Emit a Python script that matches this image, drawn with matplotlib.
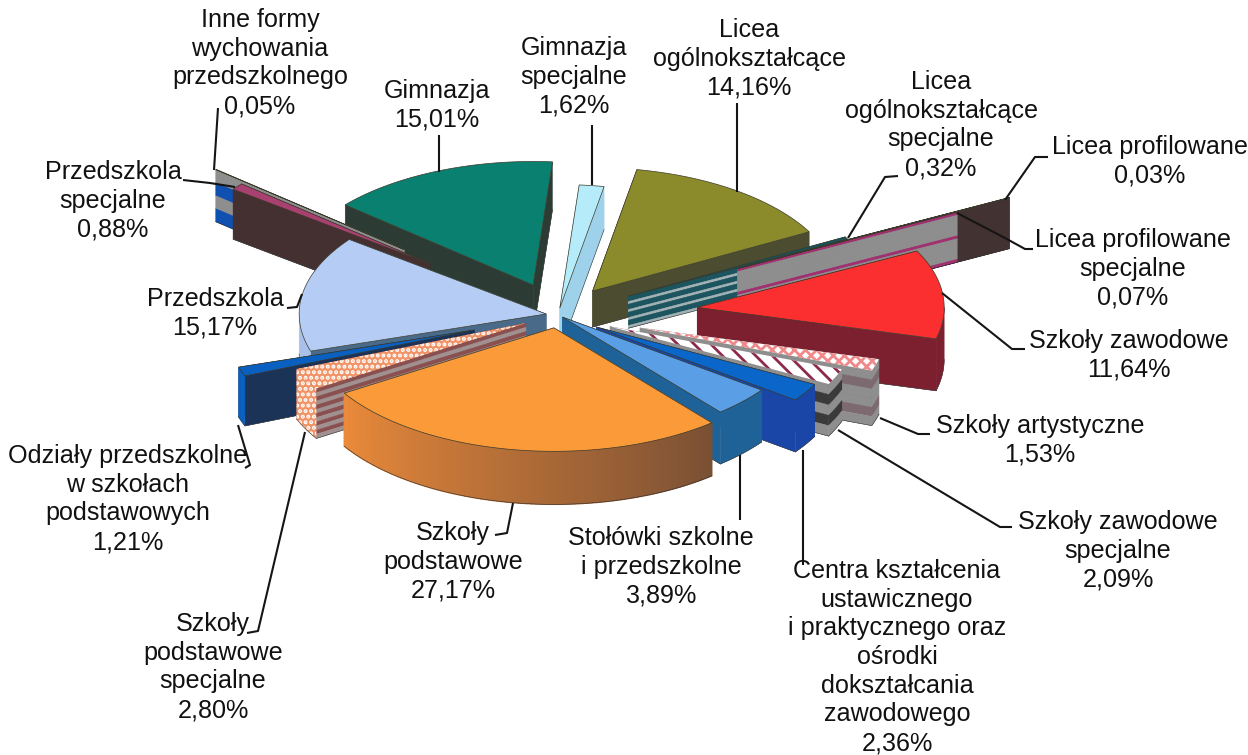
import numpy as np
import matplotlib
matplotlib.use('Agg')
import matplotlib.pyplot as plt
from matplotlib.patches import Polygon

# data, clockwise from the top
names = ['Gimnazja\nspecjalne', 'Licea\nogólnokształcące', 'Licea\nogólnokształcące\nspecjalne',
         'Licea profilowane', 'Licea profilowane\nspecjalne', 'Szkoły zawodowe', 'Szkoły artystyczne',
         'Szkoły zawodowe\nspecjalne',
         'Centra kształcenia\nustawicznego\ni praktycznego oraz\nośrodki\ndokształcania\nzawodowego',
         'Stołówki szkolne\ni przedszkolne', 'Szkoły\npodstawowe', 'Szkoły\npodstawowe\nspecjalne',
         'Odziały przedszkolne\nw szkołach\npodstawowych', 'Przedszkola', 'Przedszkola\nspecjalne',
         'Inne formy\nwychowania\nprzedszkolnego', 'Gimnazja']
values = [1.62, 14.16, 0.32, 0.03, 0.07, 11.64, 1.53, 2.09, 2.36, 3.89, 27.17, 2.80, 1.21, 15.17, 0.88, 0.05, 15.01]

# pie geometry (pixels)
start_angle = 4.5
center = (558, 315)
radius = 247
squash = 0.5
explode = [14, 59, 80, 262, 202, 140, 86, 57, 45, 6, 26, 36, 89, 12, 164, 202, 65]
heights = [43, 36, 32, 51, 50, 52, 55, 52, 52, 52, 53, 50, 50, 40, 50, 52, 48]

# colours per slice: top face, hatch colour, side wall bands, rim bands
gray = '#8e8e8e'
mag = '#a03070'
tops = ['#b6ecf9', '#8b8b2c', '#17555f', '#444040', '#a03a78', '#fb2f2f', '#ffffff', '#ffffff',
        '#0a66c8', '#5a9fe6', '#fb9a39', '#f09468', '#0a60c0', '#b5cdf5', '#a84070', '#808080', '#0a8070']
hatches = [None, None, None, None, None, None, ('xxx', '#f08a8a'), ('\\\\', '#8c2a4c'),
           None, None, None, ('...', '#ffffff'), None, None, None, None, None]
walls = [['#9dd2ea'], ['#4c4c30'], ['#1c5560', '#1c5560', '#a2b2b4'] * 4, ['#433232'],
         [mag] + [gray] * 7 + [mag] + [gray] * 7 + [mag], ['#7c2030'],
         ['#8e8e8e', '#7d6a70', '#8e8e8e', '#8e8e8e', '#7d6a70', '#8e8e8e'], [gray, '#3a3a3a', gray, '#3a3a3a', gray],
         ['#1a46a8'], ['#1f6298'], ['#b07040'], ['#8a5050', '#a09090'] * 6, ['#1c3358'], ['#4a6a8a'],
         ['#443030'], [gray, '#1050b0', gray, '#1050b0'], ['#2c3c34']]
rims = [['#9dd2ea'], ['#4c4c30'], ['#1c5560'], ['#433232'], [gray], ['#7c2030'],
        ['#8e8e8e', '#7d6a70', '#8e8e8e', '#8e8e8e', '#7d6a70', '#8e8e8e'], [gray, '#3a3a3a', gray, '#3a3a3a', gray],
        ['#1a46a8'], ['#1f6298'], None, ['#f09468'], ['#0a60c0'], ['#a8c0ea'], ['#443030'], [gray], ['#2c3c34']]
rim_hatch = {11: ('...', '#ffffff')}
rim_fade = ('#7a5034', '#ea8a3a')  # gradient for the big slice, right to left

text_pos = [(574, 77), (749, 59), (941, 125), (1150, 161), (1133, 269), (1129, 355), (1040, 440), (1118, 551),
            (897, 657), (661, 567), (453, 562), (213, 667), (128, 499), (215, 313), (113, 201), (260, 63), (437, 105)]
leaders = [[(592, 125), (592, 185)], [(737, 103), (737, 192)], [(898, 176), (885, 177), (848, 238)],
           [(1048, 157), (1035, 157), (1005, 200)], [(1033, 249), (1025, 249), (1005, 238), (957, 213)],
           [(1025, 349), (1012, 349), (942, 293)], [(930, 434), (918, 434), (880, 418)],
           [(1012, 527), (1000, 527), (838, 430)], [(803, 565), (803, 450)], [(740, 520), (740, 455)],
           [(495, 535), (507, 533), (513, 503)], [(247, 633), (258, 631), (305, 432)],
           [(245, 468), (250, 465), (238, 425)], [(287, 308), (297, 307), (302, 294)],
           [(183, 180), (210, 183), (235, 187)], [(218, 108), (214, 170)], [(439, 135), (439, 172)]]


def rim_point(cx, cy, angle, r=radius):
    a = np.radians(angle)
    return cx + r * np.sin(a), cy - r * np.cos(a) * squash


def blend(c0, c1, t):
    c0 = np.array(matplotlib.colors.to_rgb(c0))
    c1 = np.array(matplotlib.colors.to_rgb(c1))
    return c0 + (c1 - c0) * t


def draw_bands(ax, upper, height, bands, z, hatch=None):
    # upper is the list of points along the top edge of a wall
    upper = np.array(upper)
    n = len(bands)
    for k in range(n):
        h0 = height * k / n
        h1 = height * (k + 1) / n
        pts = np.vstack([upper + [0, h0], (upper + [0, h1])[::-1]])
        if hatch is None:
            ax.add_patch(Polygon(pts, closed=True, facecolor=bands[k], edgecolor=bands[k], lw=0.3, zorder=z))
        else:
            ax.add_patch(Polygon(pts, closed=True, facecolor=bands[k], edgecolor=hatch[1], hatch=hatch[0],
                                 lw=0, zorder=z))


fig = plt.figure(figsize=(12.48, 7.55), dpi=100)
ax = fig.add_axes([0, 0, 1, 1])
ax.set_xlim(0, 1248)
ax.set_ylim(755, 0)
ax.axis('off')
plt.rcParams['hatch.linewidth'] = 2.0

spans = np.array(values) / sum(values) * 360
ends = start_angle + np.cumsum(spans)
begins = ends - spans
mids = (begins + ends) / 2

# back slices first so the front ones cover them
order = sorted(range(len(values)), key=lambda i: min(mids[i] % 360, 360 - mids[i] % 360))

z = 1
for i in order:
    a0, a1, h = begins[i], ends[i], heights[i]
    m = np.radians(mids[i])
    cx = center[0] + explode[i] * np.sin(m)
    cy = center[1] - explode[i] * np.cos(m) * squash
    arc_angles = np.linspace(a0, a1, max(int(spans[i]) + 2, 3))

    # the two straight walls, further one first
    side = [[(cx, cy), rim_point(cx, cy, a)] for a in (a0, a1)]
    side.sort(key=lambda s: s[1][1])
    for s in side:
        z += 1
        draw_bands(ax, s, h, walls[i], z)
        ax.plot([s[0][0], s[1][0]], [s[0][1] + h, s[1][1] + h], color='#303030', lw=0.4, zorder=z)

    # outer wall, only the part that faces the viewer
    lo, hi = max(a0, 90), min(a1, 270)
    if hi > lo:
        z += 1
        steps = np.linspace(lo, hi, max(int(hi - lo) + 2, 3))
        if rims[i] is not None:
            draw_bands(ax, [rim_point(cx, cy, a) for a in steps], h, rims[i], z, rim_hatch.get(i))
        else:
            for k in range(len(steps) - 1):
                col = blend(rim_fade[0], rim_fade[1], k / (len(steps) - 2))
                p0 = rim_point(cx, cy, steps[k])
                p1 = rim_point(cx, cy, steps[k + 1])
                ax.add_patch(Polygon([p0, p1, (p1[0], p1[1] + h), (p0[0], p0[1] + h)], closed=True,
                                     facecolor=col, edgecolor=col, lw=1.0, zorder=z))
        low = [rim_point(cx, cy, a) for a in steps]
        ax.plot([p[0] for p in low], [p[1] + h for p in low], color='#303030', lw=0.4, zorder=z)

    # top face
    z += 1
    top_pts = [(cx, cy)] + [rim_point(cx, cy, a) for a in arc_angles]
    if hatches[i] is None:
        ax.add_patch(Polygon(top_pts, closed=True, facecolor=tops[i], edgecolor='#3a3a2a', lw=0.5, zorder=z))
    else:
        ax.add_patch(Polygon(top_pts, closed=True, facecolor=tops[i], edgecolor=hatches[i][1],
                             hatch=hatches[i][0], lw=0, zorder=z))

for i in range(len(values)):
    label = names[i] + '\n' + ('%.2f%%' % values[i]).replace('.', ',')
    ax.text(text_pos[i][0], text_pos[i][1], label, ha='center', va='center', multialignment='center',
            fontsize=18.1, family='Liberation Sans', color='#111111', linespacing=1.25, zorder=1000)
    xs = [p[0] for p in leaders[i]]
    ys = [p[1] for p in leaders[i]]
    ax.plot(xs, ys, color='#151515', lw=1.5, zorder=999, solid_capstyle='butt')

fig.savefig('out.png', dpi=100, facecolor='white')
